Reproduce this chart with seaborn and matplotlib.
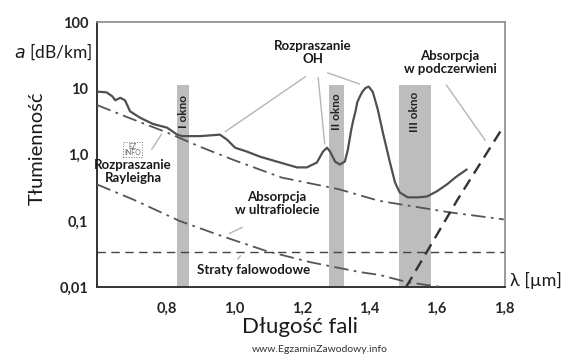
import numpy as np
import pandas as pd
import matplotlib
matplotlib.use("Agg")
import matplotlib.pyplot as plt
import seaborn as sns

# tlumiennosc wlokna - krzywa calkowita (odczyt z wykresu)
lam_total = [0.595, 0.62, 0.637, 0.646, 0.661, 0.675, 0.69, 0.72, 0.758, 0.80, 0.83,
             0.845, 0.868, 0.898, 0.957, 0.978, 1.002, 1.037, 1.076, 1.135, 1.186,
             1.215, 1.245, 1.263, 1.275, 1.284, 1.299, 1.313, 1.328, 1.337, 1.347,
             1.353, 1.36, 1.365, 1.373, 1.38, 1.39, 1.399, 1.411, 1.426, 1.441, 1.462,
             1.477, 1.491, 1.515, 1.545, 1.572, 1.601, 1.631, 1.66, 1.69]
att_total = [8.9, 8.7, 7.6, 6.6, 7.2, 6.6, 4.5, 3.6, 2.9, 2.55, 2.0,
             1.9, 1.9, 1.9, 2.0, 1.68, 1.27, 1.11, 0.93, 0.76, 0.64,
             0.64, 0.76, 1.11, 1.27, 1.11, 0.785, 0.707, 0.785, 1.19, 2.37,
             3.3, 4.6, 6.2, 7.6, 8.9, 10.2, 10.6, 8.85, 4.75, 2.14, 0.758,
             0.38, 0.268, 0.226, 0.226, 0.233, 0.278, 0.354, 0.467, 0.595]

# rozpraszanie Rayleigha
lam_ray = [0.592, 0.68, 0.8, 0.9, 1.0, 1.14, 1.31, 1.43, 1.64, 1.8]
att_ray = [5.6, 3.7, 2.15, 1.3, 0.82, 0.45, 0.30, 0.2, 0.134, 0.105]

# absorpcja w ultrafiolecie
lam_uv = [0.592, 0.699, 0.838, 0.966, 1.097, 1.224, 1.373, 1.432, 1.512, 1.589, 1.619]
att_uv = [0.354, 0.21, 0.099, 0.058, 0.0347, 0.0238, 0.0168, 0.0152, 0.0119, 0.0104, 0.01]

# straty falowodowe
lam_wg = [0.592, 1.8]
att_wg = [0.034, 0.034]

# absorpcja w podczerwieni
lam_ir = [1.51, 1.663, 1.8]
att_ir = [0.01, 0.21, 2.7]

# okna transmisyjne
okna = ["I okno", "II okno", "III okno"]
okno_od = [0.83, 1.28, 1.488]
okno_do = [0.865, 1.325, 1.583]
okno_gora = 11.2

x_ticks = [0.8, 1.0, 1.2, 1.4, 1.6, 1.8]
x_labels = ["0,8", "1,0", "1,2", "1,4", "1,6", "1,8"]
y_ticks = [0.01, 0.1, 1, 10, 100]
y_labels = ["0,01", "0,1", "1,0", "10", "100"]

sns.set_style("white")
plt.rcParams['font.family'] = ['Lato', 'DejaVu Sans']

fig = plt.figure(figsize=(5.71, 3.57), dpi=100)
ax = fig.add_axes([0.170, 0.196, 0.714, 0.742])

for lo, hi, name in zip(okno_od, okno_do, okna):
    ax.fill_betweenx([0.01, okno_gora], lo, hi, color="#bdbdbd", lw=0, zorder=1)
    ax.text((lo + hi) / 2, 4.4, name, rotation=90, ha="center", va="center",
            fontsize=8.5, fontweight="bold", color="#222222", zorder=2)

df_total = pd.DataFrame({"lam": lam_total, "att": att_total})
sns.lineplot(data=df_total, x="lam", y="att", ax=ax, color="#505050", lw=1.6,
             sort=False, zorder=5)
sns.lineplot(x=lam_ray, y=att_ray, ax=ax, color="#555555", lw=1.3, zorder=4)
ax.lines[-1].set_dashes((8, 3, 1.5, 3))
sns.lineplot(x=lam_uv, y=att_uv, ax=ax, color="#555555", lw=1.3, zorder=4)
ax.lines[-1].set_dashes((8, 3, 1.5, 3))
sns.lineplot(x=lam_wg, y=att_wg, ax=ax, color="#444444", lw=1.0, zorder=4)
ax.lines[-1].set_dashes((6, 4))
sns.lineplot(x=lam_ir, y=att_ir, ax=ax, color="#333333", lw=1.7, zorder=4)
ax.lines[-1].set_dashes((5, 3))

ax.set_yscale("log")
ax.set_xlim(0.592, 1.803)
ax.set_ylim(0.01, 100)
ax.set_xticks(x_ticks)
ax.set_xticklabels(x_labels)
ax.set_yticks(y_ticks)
ax.set_yticklabels(y_labels)
ax.minorticks_off()
ax.tick_params(axis="both", direction="inout", length=5, width=1, color="#333333",
               labelsize=10.5, pad=4)
ax.tick_params(axis="x", pad=8)
for lab in ax.get_xticklabels() + ax.get_yticklabels():
    lab.set_fontweight("bold")
ax.set_xlabel("")
ax.set_ylabel("")

for side in ["left", "bottom"]:
    ax.spines[side].set_color("#333333")
    ax.spines[side].set_linewidth(1.4)
for side in ["top", "right"]:
    ax.spines[side].set_color("#8a8a8a")
    ax.spines[side].set_linewidth(1.2)

# opisy
txt = dict(fontsize=9.5, fontweight="bold", color="#1a1a1a", ha="center", va="center",
           linespacing=1.1, zorder=6)
lead = dict(arrowstyle="-", color="#b5b5b5", lw=1)
ax.text(0.699, 0.55, "Rozpraszanie\nRayleigha", **txt)
ax.annotate("", xy=(0.788, 2.2), xytext=(0.75, 1.11), arrowprops=lead)
ax.text(1.233, 35, "Rozpraszanie\nOH", **txt)
ax.annotate("", xy=(0.966, 2.1), xytext=(1.218, 15.9), arrowprops=lead)
ax.annotate("", xy=(1.269, 1.32), xytext=(1.248, 15.9), arrowprops=lead)
ax.annotate("", xy=(1.379, 11.3), xytext=(1.269, 17.7), arrowprops=lead)
ax.text(1.64, 25, "Absorpcja\nw podczerwieni", **txt)
ax.annotate("", xy=(1.75, 1.51), xytext=(1.625, 12.1), arrowprops=lead)
ax.text(1.126, 0.183, "Absorpcja\nw ultrafiolecie", **txt)
ax.annotate("", xy=(0.978, 0.062), xytext=(1.031, 0.083), arrowprops=lead)
ax.text(1.058, 0.018, "Straty falowodowe", **txt)
ax.annotate("", xy=(1.005, 0.0245), xytext=(1.023, 0.032), arrowprops=lead)

ax.text(0.698, 1.19, "EZ\nINFO", fontsize=5, color="#666666", ha="center", va="center",
        linespacing=0.9, bbox=dict(boxstyle="square,pad=0.15", fc="white", ec="#777777",
                                   ls=":", lw=0.7))

fig.text(92 / 571, 1 - 52 / 357, "$\\mathit{a}$ [dB/km]", fontsize=12.5, ha="right",
         va="center", color="#1a1a1a")
fig.text(37 / 571, 1 - 148 / 357, "Tłumienność", fontsize=14.5, rotation=90,
         ha="center", va="center", color="#1a1a1a")
fig.text(510 / 571, 1 - 280 / 357, "λ [µm]", fontsize=13, ha="left", va="center",
         color="#1a1a1a")
fig.text(300 / 571, 1 - 327 / 357, "Długość fali", fontsize=16, ha="center",
         va="center", color="#1a1a1a")
fig.text(320 / 571, 1 - 350 / 357, "www.EgzaminZawodowy.info", fontsize=7.5,
         ha="center", va="center", color="#333333")

fig.savefig("out.png", dpi=100)
